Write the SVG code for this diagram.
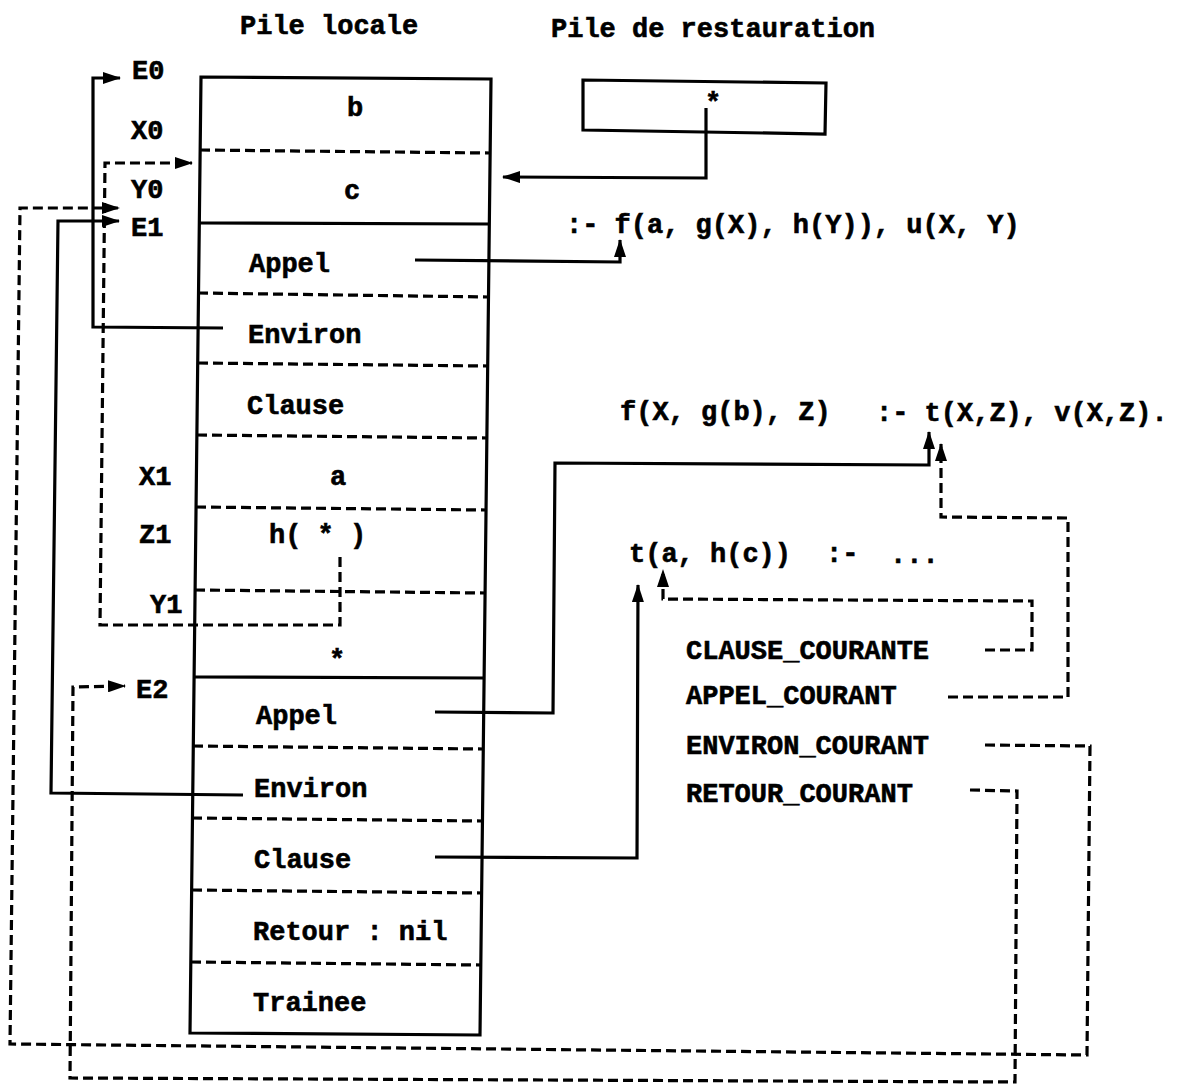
<svg xmlns="http://www.w3.org/2000/svg" width="1189" height="1091" viewBox="0 0 1189 1091">
<style>
.t{font-family:"Liberation Mono","DejaVu Sans Mono",monospace;font-weight:bold;font-size:27px;fill:#000;stroke:#000;stroke-width:0.6}
.m{text-anchor:middle}
.s{stroke:#000;stroke-width:3.2;fill:none}
.d{stroke:#000;stroke-width:3.2;fill:none;stroke-dasharray:10 5}
</style>
<defs>
<marker id="ah" markerUnits="userSpaceOnUse" markerWidth="18" markerHeight="12" refX="17" refY="6" orient="auto">
<path d="M0,0 L18,6 L0,12 z" fill="#000"/>
</marker>
</defs>
<rect width="1189" height="1091" fill="#fff"/>

<g id="titles">
<text class="t" x="240" y="34">Pile locale</text>
<text class="t" x="551" y="37">Pile de restauration</text>
</g>

<g id="pile-locale">
<polygon class="s" points="201,77 491,79 480,1035 190,1033"/>
<line class="d" x1="200" y1="150" x2="490" y2="153"/>
<line class="s" x1="199" y1="223" x2="489" y2="224"/>
<line class="d" x1="198" y1="293" x2="488" y2="297"/>
<line class="d" x1="198" y1="363" x2="488" y2="366"/>
<line class="d" x1="197" y1="435" x2="487" y2="438"/>
<line class="d" x1="196" y1="507" x2="486" y2="510"/>
<line class="d" x1="195" y1="590" x2="485" y2="593"/>
<line class="s" x1="194" y1="677" x2="484" y2="678"/>
<line class="d" x1="193" y1="746" x2="483" y2="749"/>
<line class="d" x1="192" y1="818" x2="482" y2="821"/>
<line class="d" x1="192" y1="890" x2="482" y2="893"/>
<line class="d" x1="191" y1="962" x2="481" y2="965"/>
</g>
<g id="cell-b"><text class="t m" x="355" y="116">b</text></g>
<g id="cell-c"><text class="t m" x="352" y="199">c</text></g>
<g id="cell-appel1"><text class="t" x="249" y="272">Appel</text></g>
<g id="cell-environ1"><text class="t" x="248" y="343">Environ</text></g>
<g id="cell-clause1"><text class="t" x="247" y="414">Clause</text></g>
<g id="cell-a"><text class="t m" x="338" y="485">a</text></g>
<g id="cell-h"><text class="t" x="269" y="543">h( * )</text></g>
<g id="cell-star"><text class="t m" x="337" y="668">*</text></g>
<g id="cell-appel2"><text class="t" x="256" y="724">Appel</text></g>
<g id="cell-environ2"><text class="t" x="254" y="797">Environ</text></g>
<g id="cell-clause2"><text class="t" x="254" y="868">Clause</text></g>
<g id="cell-retour"><text class="t" x="253" y="940">Retour : nil</text></g>
<g id="cell-trainee"><text class="t" x="253" y="1011">Trainee</text></g>

<g id="labels">
<text class="t" x="132" y="79">E0</text>
<text class="t" x="131" y="139">X0</text>
<text class="t" x="131" y="198">Y0</text>
<text class="t" x="131" y="236">E1</text>
<text class="t" x="139" y="485">X1</text>
<text class="t" x="139" y="543">Z1</text>
<text class="t" x="150" y="613">Y1</text>
<text class="t" x="136" y="698">E2</text>
</g>

<g id="pile-restauration">
<polygon class="s" points="583,80 826,83 825,134 583,130"/>
<text class="t m" x="713" y="111">*</text>
</g>

<g id="clauses">
<text class="t" x="566" y="233">:- f(a, g(X), h(Y)), u(X, Y)</text>
<text class="t" x="620" y="420">f(X, g(b), Z)</text>
<text class="t" x="876" y="421">:- t(X,Z), v(X,Z).</text>
<text class="t" x="629" y="562">t(a, h(c))</text>
<text class="t" x="826" y="562">:-</text>
<text class="t" x="890" y="563">...</text>
</g>

<g id="registres">
<text class="t" x="686" y="659">CLAUSE_COURANTE</text>
<text class="t" x="686" y="704">APPEL_COURANT</text>
<text class="t" x="686" y="754">ENVIRON_COURANT</text>
<text class="t" x="686" y="802">RETOUR_COURANT</text>
</g>

<g id="connectors">
<polyline class="s" points="223,328 93,327 93,78 120,78" marker-end="url(#ah)"/>
<polyline class="d" points="340,557 340,625 100,625 105,163 192,163" marker-end="url(#ah)"/>
<polyline class="s" points="243,795 51,793 58,221 119,221" marker-end="url(#ah)"/>
<polyline class="d" points="985,745 1090,746 1087,1055 10,1044 20,208 119,208" marker-end="url(#ah)"/>
<polyline class="d" points="970,790 1017,791 1015,1082 70,1078 73,687 125,686" marker-end="url(#ah)"/>
<polyline class="s" points="706,108 706,178 503,177" marker-end="url(#ah)"/>
<polyline class="s" points="415,260 620,262 620,240" marker-end="url(#ah)"/>
<polyline class="s" points="435,712 553,713 555,463 929,465 929,432" marker-end="url(#ah)"/>
<polyline class="d" points="948,697 1068,697 1068,518 941,517 941,444" marker-end="url(#ah)"/>
<polyline class="s" points="435,857 637,858 638,585" marker-end="url(#ah)"/>
<polyline class="d" points="985,650 1032,650 1032,601 663,599 663,570" marker-end="url(#ah)"/>
</g>
</svg>
